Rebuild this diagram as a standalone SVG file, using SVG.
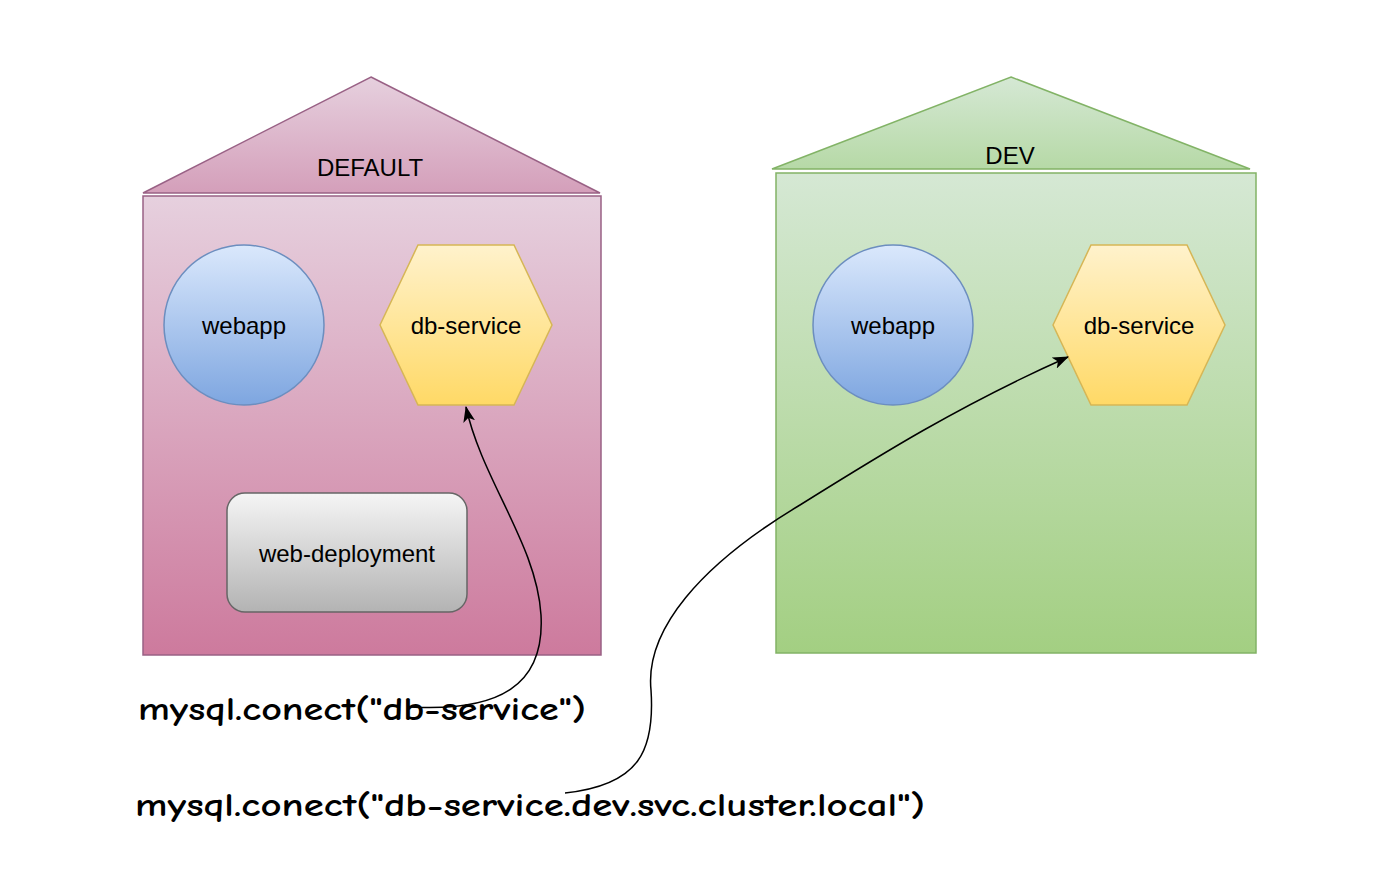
<svg xmlns="http://www.w3.org/2000/svg" width="1382" height="890" viewBox="0 0 1382 890">
<defs>
<linearGradient id="gPink" x1="0" y1="0" x2="0" y2="1"><stop offset="0" stop-color="#e6d0de"/><stop offset="1" stop-color="#cd7a9d"/></linearGradient>
<linearGradient id="gPinkRoof" x1="0" y1="0" x2="0" y2="1"><stop offset="0" stop-color="#e6d0de"/><stop offset="1" stop-color="#d49fba"/></linearGradient>
<linearGradient id="gGreen" x1="0" y1="0" x2="0" y2="1"><stop offset="0" stop-color="#d5e8d4"/><stop offset="1" stop-color="#a3cf82"/></linearGradient>
<linearGradient id="gGreenRoof" x1="0" y1="0" x2="0" y2="1"><stop offset="0" stop-color="#d5e8d4"/><stop offset="1" stop-color="#b6d9a6"/></linearGradient>
<linearGradient id="gBlue" x1="0" y1="0" x2="0" y2="1"><stop offset="0" stop-color="#dae8fc"/><stop offset="1" stop-color="#7ea6e0"/></linearGradient>
<linearGradient id="gYellow" x1="0" y1="0" x2="0" y2="1"><stop offset="0" stop-color="#fff2cc"/><stop offset="1" stop-color="#ffd966"/></linearGradient>
<linearGradient id="gGrey" x1="0" y1="0" x2="0" y2="1"><stop offset="0" stop-color="#f5f5f5"/><stop offset="1" stop-color="#b3b3b3"/></linearGradient>
<marker id="arrow" viewBox="0 0 16 12" refX="15" refY="6" markerWidth="16" markerHeight="12" markerUnits="userSpaceOnUse" orient="auto">
<path d="M0,0 L16,6 L0,12 L4,6 Z" fill="#000"/>
</marker>
<style>
.lbl{font-family:"Liberation Sans",Arial,sans-serif;font-size:24px;fill:#000;text-anchor:middle;dominant-baseline:central}
.code{font-family:"Comic Sans MS","Comic Neue","DejaVu Sans",sans-serif;font-size:32px;font-weight:bold;fill:#000}
.pink{fill:url(#gPink);stroke:#996185;stroke-width:1.5}
.green{fill:url(#gGreen);stroke:#82b366;stroke-width:1.5}
.blue{fill:url(#gBlue);stroke:#6c8ebf;stroke-width:1.5}
.yellow{fill:url(#gYellow);stroke:#d6b656;stroke-width:1.5}
.grey{fill:url(#gGrey);stroke:#666666;stroke-width:1.5}
.edge{fill:none;stroke:#000;stroke-width:1.5}
</style>
</defs>
<rect width="1382" height="890" fill="#fff"/>
<g id="ns-default">
<polygon points="371,77 600,193 143,193" fill="url(#gPinkRoof)" stroke="#996185" stroke-width="1.5"/>
<rect x="143" y="196" width="458" height="459" class="pink"/>
<text x="370" y="167" class="lbl">DEFAULT</text>
</g>
<g id="ns-dev">
<polygon points="1011,77 1250,169 772,169" fill="url(#gGreenRoof)" stroke="#82b366" stroke-width="1.5"/>
<rect x="776" y="173" width="480" height="480" class="green"/>
<text x="1010" y="155" class="lbl">DEV</text>
</g>
<g id="webapp-default">
<circle cx="244" cy="325" r="80" class="blue"/>
<text x="244" y="325" class="lbl">webapp</text>
</g>
<g id="dbservice-default">
<polygon points="380,325 418,245 514,245 552,325 514,405 418,405" class="yellow"/>
<text x="466" y="325" class="lbl">db-service</text>
</g>
<g id="web-deployment">
<rect x="227" y="493" width="240" height="119" rx="18" class="grey"/>
<text x="347" y="553" class="lbl">web-deployment</text>
</g>
<g id="webapp-dev">
<circle cx="893" cy="325" r="80" class="blue"/>
<text x="893" y="325" class="lbl">webapp</text>
</g>
<g id="dbservice-dev">
<polygon points="1053,325 1091,245 1187,245 1225,325 1187,405 1091,405" class="yellow"/>
<text x="1139" y="325" class="lbl">db-service</text>
</g>
<g id="label-local">
<text x="138" y="720" class="code" textLength="448" lengthAdjust="spacingAndGlyphs">mysql.conect("db-service")</text>
</g>
<g id="label-fqdn">
<text x="135" y="816" class="code" textLength="790" lengthAdjust="spacingAndGlyphs">mysql.conect("db-service.dev.svc.cluster.local")</text>
</g>
<g id="connectors">
<path class="edge" d="M 410 707 C 500 712, 545 685, 541 615 C 537 545, 482 480, 466 407" marker-end="url(#arrow)"/>
<path class="edge" d="M 565 793 C 640 785, 655 750, 651 690 C 645 630, 700 565, 800 505 C 880 455, 960 405, 1068 357" marker-end="url(#arrow)"/>
</g>
</svg>
